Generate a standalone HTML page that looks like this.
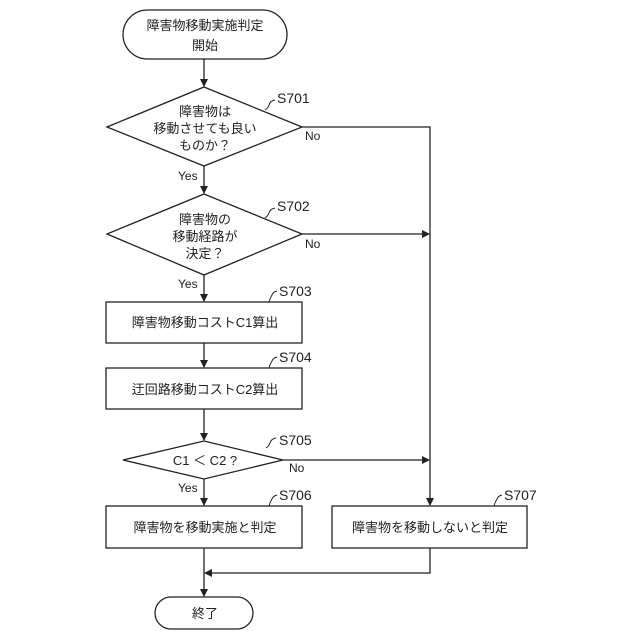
<!DOCTYPE html>
<html><head><meta charset="utf-8"><style>
html,body{margin:0;padding:0;background:#fff;}
svg{display:block;}
text{font-family:"Liberation Sans","Noto Sans CJK JP",sans-serif;font-size:13px;fill:#222;}
.s{font-size:14px;}
.l{font-size:12px;}
</style></head><body>
<svg width="640" height="640" viewBox="0 0 640 640" xmlns="http://www.w3.org/2000/svg">
<defs><marker id="a" markerWidth="8" markerHeight="8" refX="7" refY="4" orient="auto" markerUnits="userSpaceOnUse"><path d="M0,0 L8,4 L0,8 z" fill="#222"/></marker></defs>
<g stroke="#222" stroke-width="1.3" fill="none">
<rect x="123" y="10" width="164" height="49" rx="24.5" fill="#fff"/>
<line x1="204" y1="59" x2="204" y2="86" marker-end="url(#a)"/>
<polygon points="204,87 302,127 204,166 107,127" fill="#fff"/>
<line x1="204" y1="166" x2="204" y2="193" marker-end="url(#a)"/>
<polygon points="204,194 302,234 204,275 107,234" fill="#fff"/>
<line x1="204" y1="275" x2="204" y2="301" marker-end="url(#a)"/>
<rect x="106" y="302" width="196" height="41" fill="#fff"/>
<line x1="204" y1="343" x2="204" y2="367" marker-end="url(#a)"/>
<rect x="106" y="368" width="196" height="41" fill="#fff"/>
<line x1="204" y1="409" x2="204" y2="440" marker-end="url(#a)"/>
<polygon points="204,441 283,460 204,479 123,460" fill="#fff"/>
<line x1="204" y1="479" x2="204" y2="505" marker-end="url(#a)"/>
<rect x="106" y="506" width="196" height="42" fill="#fff"/>
<rect x="332" y="506" width="195" height="42" fill="#fff"/>
<polyline points="302,127 430,127 430,505" marker-end="url(#a)"/>
<line x1="302" y1="234" x2="429" y2="234" marker-end="url(#a)"/>
<line x1="283" y1="460" x2="429" y2="460" marker-end="url(#a)"/>
<polyline points="430,548 430,573 205,573" marker-end="url(#a)"/>
<line x1="204" y1="548" x2="204" y2="596" marker-end="url(#a)"/>
<rect x="155" y="597" width="98" height="32" rx="16" fill="#fff"/>
<path d="M265,110 q3,-2 4,-5 q1,-4 6,-5" stroke-width="1"/>
<path d="M265,218 q3,-2 4,-5 q1,-4 6,-5" stroke-width="1"/>
<path d="M269,302 q1,-4 3,-7 q1,-3 5,-4" stroke-width="1"/>
<path d="M269,368 q1,-4 3,-7 q1,-3 5,-4" stroke-width="1"/>
<path d="M266,448 q3,-2 4,-5 q1,-4 6,-5" stroke-width="1"/>
<path d="M269,506 q1,-4 3,-7 q1,-3 5,-4" stroke-width="1"/>
<path d="M494,506 q1,-4 3,-7 q1,-3 5,-4" stroke-width="1"/>
</g>
<g text-anchor="middle">
<text x="205" y="30">障害物移動実施判定</text>
<text x="205" y="50">開始</text>
<text x="205" y="116">障害物は</text>
<text x="205" y="133">移動させても良い</text>
<text x="205" y="150">ものか？</text>
<text x="205" y="224">障害物の</text>
<text x="205" y="241">移動経路が</text>
<text x="205" y="258">決定？</text>
<text x="205" y="327">障害物移動コストC1算出</text>
<text x="205" y="394">迂回路移動コストC2算出</text>
<text x="205" y="465">C1 ＜ C2 ?</text>
<text x="205" y="532">障害物を移動実施と判定</text>
<text x="430" y="532">障害物を移動しないと判定</text>
<text x="205" y="618">終了</text>
</g>
<text class="s" x="277" y="103">S701</text>
<text class="s" x="277" y="211">S702</text>
<text class="s" x="279" y="296">S703</text>
<text class="s" x="279" y="362">S704</text>
<text class="s" x="279" y="445">S705</text>
<text class="s" x="279" y="500">S706</text>
<text class="s" x="504" y="500">S707</text>
<text class="l" x="305" y="140">No</text>
<text class="l" x="305" y="248">No</text>
<text class="l" x="289" y="472">No</text>
<text class="l" x="178" y="180">Yes</text>
<text class="l" x="178" y="288">Yes</text>
<text class="l" x="178" y="492">Yes</text>
</svg>
</body></html>
